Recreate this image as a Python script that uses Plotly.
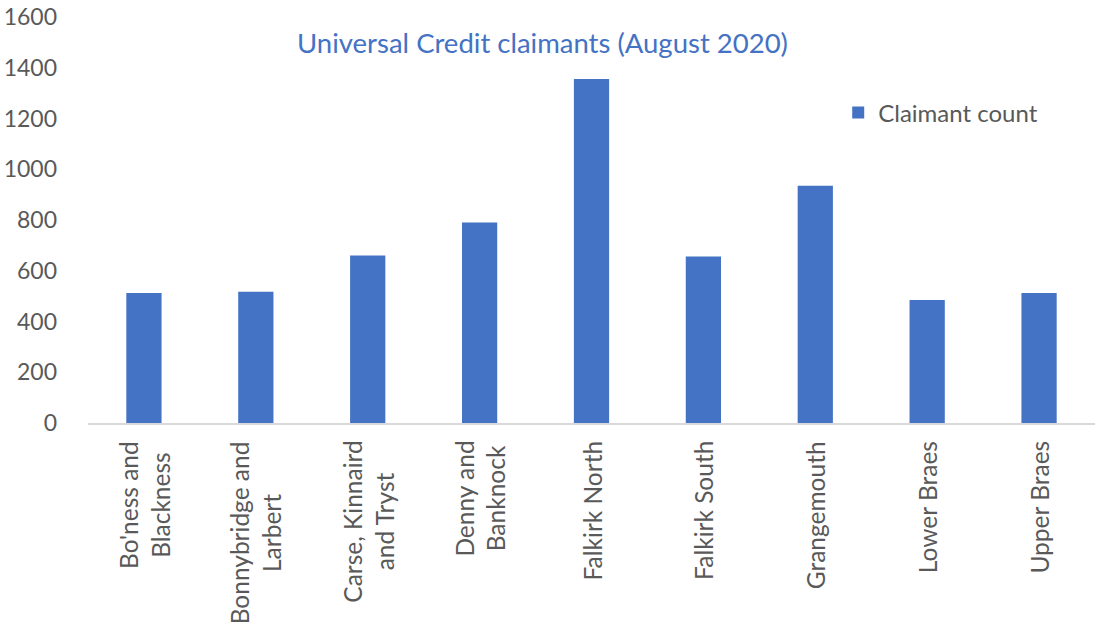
import plotly.graph_objects as go

categories = [
    "Bo'ness and Blackness",
    "Bonnybridge and Larbert",
    "Carse, Kinnaird and Tryst",
    "Denny and Banknock",
    "Falkirk North",
    "Falkirk South",
    "Grangemouth",
    "Lower Braes",
    "Upper Braes",
]
category_labels = [
    "Bo'ness and<br>Blackness",
    "Bonnybridge and<br>Larbert",
    "Carse, Kinnaird<br>and Tryst",
    "Denny and<br>Banknock",
    "Falkirk North",
    "Falkirk South",
    "Grangemouth",
    "Lower Braes",
    "Upper Braes",
]
claimant_count = [512, 517, 660, 790, 1356, 656, 935, 485, 512]
series_name = "Claimant count"
title_text = "Universal Credit claimants (August 2020)"
y_ticks = [0, 200, 400, 600, 800, 1000, 1200, 1400, 1600]

FONT = "Lato, Carlito, Calibri, sans-serif"
GREY = "#595959"
BLUE = "#4472C4"
FS = 23

fig = go.Figure()
fig.add_trace(go.Bar(
    x=categories,
    y=claimant_count,
    name=series_name,
    marker=dict(color=BLUE, line=dict(width=0)),
    showlegend=True,
))

for cat, lab in zip(categories, category_labels):
    fig.add_annotation(
        x=cat, y=0, xref="x", yref="paper",
        text=lab, textangle=-90, showarrow=False,
        xanchor="center", yanchor="top", yshift=-16, align="center",
        font=dict(family=FONT, size=24.5, color=GREY),
    )

fig.update_layout(
    width=1106,
    height=625,
    paper_bgcolor="white",
    plot_bgcolor="white",
    margin=dict(l=88, r=11, t=17, b=202),
    bargap=0.685,
    font=dict(family=FONT, color=GREY, size=FS),
    title=dict(
        text=title_text,
        x=0.4905, xanchor="center",
        y=1 - 43 / 625, yanchor="middle",
        font=dict(family=FONT, size=27.5, color=BLUE),
    ),
    showlegend=True,
    legend=dict(
        x=0.745, xanchor="left",
        y=0.764, yanchor="middle",
        font=dict(family=FONT, size=24, color=GREY),
        bgcolor="rgba(0,0,0,0)",
        itemwidth=30,
    ),
)

fig.update_yaxes(
    range=[0, 1600],
    tickvals=y_ticks,
    showgrid=False,
    zeroline=False,
    showline=False,
    ticks="",
    automargin=False,
    ticklabelstandoff=30,
    tickfont=dict(family=FONT, size=FS, color=GREY),
)
fig.update_xaxes(
    showgrid=False,
    showline=True,
    linecolor="#D9D9D9",
    linewidth=1.5,
    ticks="",
    showticklabels=False,
    automargin=False,
)

fig.write_html(
    "out.html",
    config={"displayModeBar": False},
    post_script="document.body.style.margin='0';document.body.style.overflow='hidden';",
)
